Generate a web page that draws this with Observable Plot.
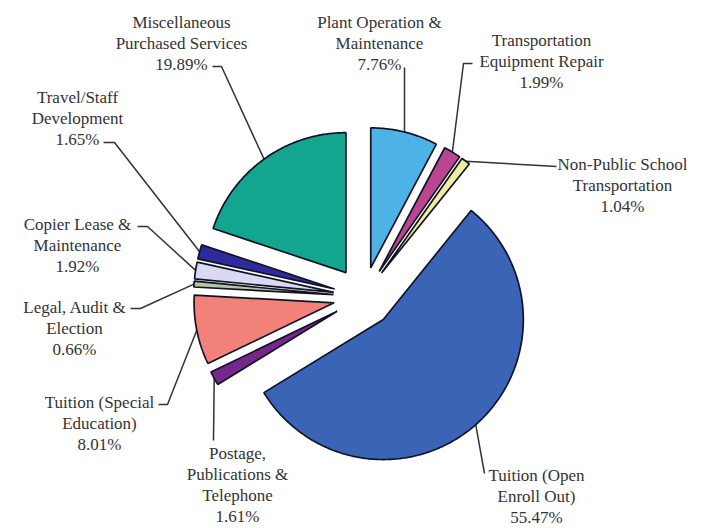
<!DOCTYPE html>
<html>
<head>
<meta charset="utf-8">
<script src="https://cdn.jsdelivr.net/npm/d3@7"></script>
<script src="https://cdn.jsdelivr.net/npm/@observablehq/plot@0.6"></script>
<style>
  html, body { margin: 0; padding: 0; background: #fff; }
  #chart svg { display: block; }
</style>
</head>
<body>
<div id="chart"></div>
<script>
// ---- data ----
const categories = [
  "Plant Operation & Maintenance",
  "Transportation Equipment Repair",
  "Non-Public School Transportation",
  "Tuition (Open Enroll Out)",
  "Postage, Publications & Telephone",
  "Tuition (Special Education)",
  "Legal, Audit & Election",
  "Copier Lease & Maintenance",
  "Travel/Staff Development",
  "Miscellaneous Purchased Services"
];
const shares = [7.76, 1.99, 1.04, 55.47, 1.61, 8.01, 0.66, 1.92, 1.65, 19.89];
const labelLines = [
  ["Plant Operation &", "Maintenance"],
  ["Transportation", "Equipment Repair"],
  ["Non-Public School", "Transportation"],
  ["Tuition (Open", "Enroll Out)"],
  ["Postage,", "Publications &", "Telephone"],
  ["Tuition (Special", "Education)"],
  ["Legal, Audit &", "Election"],
  ["Copier Lease &", "Maintenance"],
  ["Travel/Staff", "Development"],
  ["Miscellaneous", "Purchased Services"]
];
const colors = ["#4db3e6", "#b9468f", "#eeee9c", "#3a64b6", "#76288a",
                "#f28279", "#b2c9a2", "#d9d9f2", "#2c2c9c", "#12a68f"];

// ---- layout (not data) ----
const W = 705, H = 528;
const cx = 363, cy = 296.5, R = 140, explode = 30;
const fontSize = 17, lineH = 21;
// label block: centre x, first baseline y; leader: start points before slice end
const labelLayout = [
  {x: 379, b: 25,  lead: [[404, 67]]},
  {x: 541, b: 43,  lead: [[472, 63], [463, 63]]},
  {x: 622, b: 167, lead: [[556, 166]]},
  {x: 536, b: 478, lead: [[484, 473]]},
  {x: 237, b: 456, lead: [[213, 440]]},
  {x: 99,  b: 405, lead: [[158, 404], [167, 404]]},
  {x: 74,  b: 310, lead: [[130, 308], [140, 308]]},
  {x: 77,  b: 227, lead: [[137, 226], [147, 226]]},
  {x: 77,  b: 100, lead: [[103, 142], [114, 142]]},
  {x: 181, b: 25,  lead: [[212, 66], [221, 66]]}
];

// ---- geometry from values ----
const arcs = d3.pie().sort(null).startAngle(0).endAngle(2 * Math.PI)(shares);
const slicePts = [];
const leaderPts = [];
const labels = [];
arcs.forEach((a, i) => {
  const mid = (a.startAngle + a.endAngle) / 2;
  const vx = cx + explode * Math.sin(mid), vy = cy - explode * Math.cos(mid);
  const name = categories[i];
  slicePts.push({name, x: vx, y: vy});
  const n = Math.max(2, Math.ceil((a.endAngle - a.startAngle) / 0.01));
  for (let k = 0; k <= n; k++) {
    const t = a.startAngle + (a.endAngle - a.startAngle) * k / n;
    slicePts.push({name, x: vx + R * Math.sin(t), y: vy - R * Math.cos(t)});
  }
  const L = labelLayout[i];
  L.lead.forEach(([x, y]) => leaderPts.push({name, x, y}));
  leaderPts.push({name, x: vx + R * Math.sin(mid), y: vy - R * Math.cos(mid)});
  labels.push({
    name, x: L.x, y: L.b - 0.71 * fontSize,
    text: [...labelLines[i], d3.format(".2f")(shares[i]) + "%"].join("\n")
  });
});

const chart = Plot.plot({
  width: W, height: H,
  margin: 0,
  x: {domain: [0, W], range: [0, W], axis: null},
  y: {domain: [0, H], range: [0, H], axis: null},
  color: {domain: categories, range: colors},
  style: {background: "#fff"},
  marks: [
    Plot.line(leaderPts, {x: "x", y: "y", z: "name", stroke: "#333", strokeWidth: 1.5,
      strokeLinejoin: "miter", strokeLinecap: "butt"}),
    Plot.line(slicePts, {x: "x", y: "y", z: "name", fill: "name", stroke: "#121225",
      strokeWidth: 1.7, curve: "linear-closed", strokeLinejoin: "miter"}),
    Plot.text(labels, {x: "x", y: "y", text: "text", textAnchor: "middle", lineAnchor: "top",
      lineHeight: lineH / fontSize, fontSize, fill: "#333",
      fontFamily: "'Liberation Serif', 'Times New Roman', serif"})
  ]
});
document.getElementById("chart").append(chart);
</script>
</body>
</html>
